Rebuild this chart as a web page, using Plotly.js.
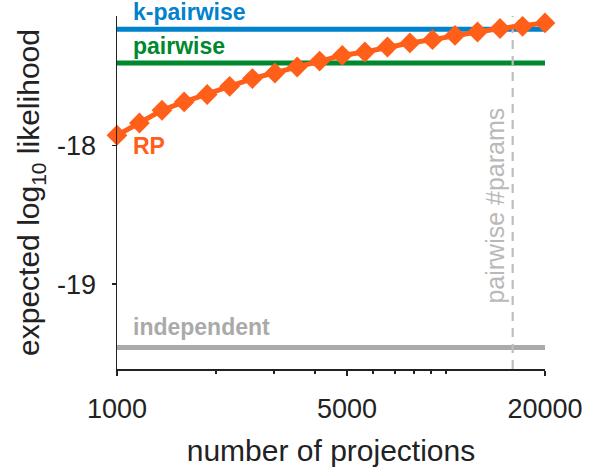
<!DOCTYPE html>
<html><head><meta charset="utf-8">
<script src="https://cdn.plot.ly/plotly-3.0.1.min.js"></script>
<style>html,body{margin:0;padding:0;background:#fff}#chart{width:590px;height:472px}</style>
</head><body><div id="chart"></div>
<script>
const projections = [1000, 1170, 1370, 1600, 1880, 2200, 2580, 3020, 3530, 4130, 4840, 5670, 6640, 7770, 9100, 10650, 12470, 14600, 17090, 20000];
const rpLogLik = [-17.928, -17.840, -17.748, -17.688, -17.635, -17.576, -17.520, -17.480, -17.437, -17.394, -17.353, -17.329, -17.293, -17.264, -17.240, -17.209, -17.185, -17.160, -17.144, -17.120];
const kPairwise = -17.165;
const pairwise = -17.408;
const independent = -19.455;
const pairwiseParams = 15950;
const xSpan = [1000, 20000];
const xTickVals = [1000, 5000, 20000];
const xTickText = ['1000', '5000', '20000'];
const xMinorVals = [2000, 3000, 4000, 6000, 7000, 8000, 9000, 10000];
const yTickVals = [-19, -18];
const yTickText = ['-19', '-18'];

const FONT = 'Liberation Sans, Arial, sans-serif';
const cBlue = 'rgb(0,130,204)', cGreen = 'rgb(0,136,46)', cOrange = 'rgb(255,95,25)', cGray = 'rgb(170,170,170)';

const hline = (v, col) => ({x: xSpan, y: [v, v], mode: 'lines', line: {color: col, width: 5}, hoverinfo: 'skip', cliponaxis: false});
const data = [
  hline(independent, cGray),
  hline(pairwise, cGreen),
  hline(kPairwise, cBlue),
  {x: [pairwiseParams, pairwiseParams], y: [-19.61, -17.07], mode: 'lines', line: {color: 'rgb(190,190,190)', width: 2.2, dash: '9px,7px'}, cliponaxis: false},
  {x: projections, y: rpLogLik, mode: 'lines+markers', line: {color: cOrange, width: 5}, marker: {symbol: 'diamond', size: 16, color: cOrange}, cliponaxis: false}
];

const layout = {
  width: 590, height: 472,
  margin: {l: 117, r: 45, t: 16, b: 103},
  paper_bgcolor: '#fff', plot_bgcolor: '#fff',
  showlegend: false,
  font: {family: FONT, color: '#222', size: 27},
  xaxis: {
    type: 'log', range: [3 - 1e-5, Math.log10(20000) + 1e-5],
    tickmode: 'array', tickvals: xTickVals, ticktext: xTickText,
    ticks: 'outside', ticklen: 5, tickwidth: 1.5, tickcolor: '#222',
    minor: {tickmode: 'array', tickvals: xMinorVals, ticks: 'outside', ticklen: 3, tickwidth: 1.2, tickcolor: '#222', showgrid: false},
    showline: true, linecolor: '#222', linewidth: 1.5,
    showgrid: false, zeroline: false,
    ticklabelstandoff: 10,
    tickfont: {size: 27, color: '#222'},
    title: {text: 'number of projections', font: {size: 30, color: '#222'}, standoff: 17}
  },
  yaxis: {
    range: [-19.61, -17.07],
    tickmode: 'array', tickvals: yTickVals, ticktext: yTickText,
    ticks: 'outside', ticklen: 4, tickwidth: 1.5, tickcolor: '#222',
    showline: true, linecolor: '#222', linewidth: 1.5,
    showgrid: false, zeroline: false,
    ticklabelstandoff: 10,
    tickfont: {size: 27, color: '#222'},
    title: {text: 'expected log<sub>10</sub> likelihood', font: {size: 30, color: '#222'}, standoff: 8}
  },
  annotations: [
    {xref: 'paper', yref: 'y', x: 0.032, y: kPairwise, yshift: 17, text: '<b>k-pairwise</b>', showarrow: false, xanchor: 'left', font: {size: 23, color: cBlue}},
    {xref: 'paper', yref: 'y', x: 0.032, y: pairwise, yshift: 17, text: '<b>pairwise</b>', showarrow: false, xanchor: 'left', font: {size: 23, color: cGreen}},
    {xref: 'paper', yref: 'y', x: 0.032, y: independent, yshift: 20, text: '<b>independent</b>', showarrow: false, xanchor: 'left', font: {size: 23, color: cGray}},
    {xref: 'paper', yref: 'y', x: 0.032, y: rpLogLik[0], yshift: -11, text: '<b>RP</b>', showarrow: false, xanchor: 'left', font: {size: 23, color: cOrange}},
    {xref: 'x', yref: 'paper', x: Math.log10(pairwiseParams), y: 0.462, xshift: -18, text: 'pairwise #params', textangle: -90, showarrow: false, font: {size: 25, color: 'rgb(185,185,185)'}}
  ]
};
Plotly.newPlot('chart', data, layout, {displayModeBar: false, staticPlot: true});
</script></body></html>
